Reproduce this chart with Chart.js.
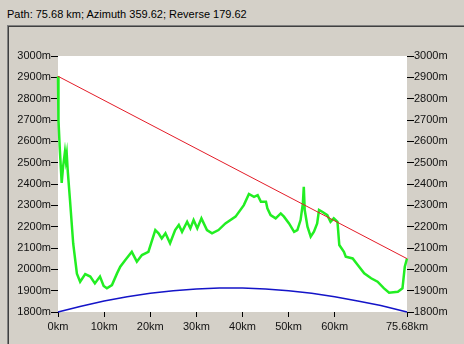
<!DOCTYPE html>
<html>
<head>
<meta charset="utf-8">
<script src="https://cdn.jsdelivr.net/npm/chart.js@4/dist/chart.umd.min.js"></script>
<style>
  html, body { margin: 0; padding: 0; }
  body { width: 464px; height: 344px; background: #d4d0c8; position: relative; overflow: hidden;
         font-family: "Liberation Sans", Arial, sans-serif; }
  #status { position: absolute; left: 7px; top: 8px; font-size: 11px; color: #000; }
  #panel { position: absolute; left: 7px; top: 25px; width: 470px; height: 330px;
           border-top: 1px solid #808080; border-left: 1px solid #808080;
           box-shadow: inset 1px 1px 0 #404040; }
  #chart { position: absolute; left: 0; top: 0; }
</style>
</head>
<body>
<div id="status">Path: 75.68 km; Azimuth 359.62; Reverse 179.62</div>
<div id="panel"></div>
<canvas id="chart" width="464" height="344"></canvas>
<script>
// ====================== Data ======================
const X_TICKS = [0, 10, 20, 30, 40, 50, 60, 75.68];

// terrain profile (km, m)
const profileKm = [
  0.0, 0.1, 0.4, 0.8, 1.1, 1.5, 1.7, 1.9, 2.1, 2.6, 3.3, 4.1, 4.8,
  5.9, 7.0, 8.0, 9.1, 9.9, 10.6, 11.7, 12.8, 13.5, 14.6, 16.0, 17.1,
  18.2, 19.6, 21.1, 21.8, 22.5, 23.3, 24.3, 25.4, 26.2, 26.9, 28.0,
  28.7, 29.4, 30.2, 31.1, 32.3, 33.4, 34.8, 36.3, 38.5, 40.3, 41.4,
  42.5, 43.3, 44.0, 45.1, 45.4, 46.1, 47.2, 48.3, 49.0, 50.1, 51.2,
  51.9, 52.6, 53.1, 53.3, 53.5, 54.1, 54.8, 55.5, 56.2, 56.6, 57.3,
  58.4, 59.1, 59.8, 60.6, 61.0, 62.0, 62.4, 63.9, 65.0, 66.4, 67.9,
  69.3, 70.7, 71.8, 73.7, 74.7, 75.2, 75.68
];
const profileElev = [
  2905, 2700, 2560, 2405, 2480, 2550, 2510, 2540, 2465, 2325, 2120, 1980, 1942,
  1978, 1966, 1934, 1966, 1922, 1911, 1926, 1981, 2012, 2044, 2082, 2036,
  2067, 2082, 2184, 2169, 2145, 2169, 2122, 2184, 2208, 2176, 2223,
  2192, 2231, 2192, 2239, 2184, 2169, 2184, 2215, 2247, 2301, 2353,
  2340, 2348, 2317, 2317, 2286, 2254, 2239, 2262, 2247, 2215, 2176,
  2184, 2231, 2309, 2387, 2278, 2200, 2153, 2176, 2215, 2278, 2270,
  2254, 2223, 2239, 2223, 2114, 2082, 2059, 2051, 2020, 1981, 1958,
  1942, 1911, 1890, 1895, 1911, 2012, 2051
];

// line of sight
const losKm = [0, 75.68];
const losElev = [2905, 2050];

// earth curvature
const curveKm = [0, 5, 10, 15, 20, 25, 30, 35, 37.84, 40, 45, 50, 55, 60, 65, 70, 75.68];
const curveElev = [1800, 1827, 1852, 1872, 1888, 1900, 1908, 1912, 1913, 1912, 1908, 1900, 1888, 1872, 1852, 1830, 1800];

function toPoints(xs, ys) {
  return xs.map((x, i) => ({ x: x, y: ys[i] }));
}

// ====================== Plot background ======================
const plotBg = {
  id: "plotBg",
  beforeDraw(chart) {
    const a = chart.chartArea;
    const ctx = chart.ctx;
    ctx.save();
    ctx.fillStyle = "#ffffff";
    ctx.fillRect(a.left, a.top, a.right - a.left, a.bottom - a.top);
    ctx.restore();
  }
};

const tickFont = { family: "'Liberation Sans', Arial, sans-serif", size: 11 };

function yAxis(pos, width) {
  return {
    type: "linear",
    position: pos,
    min: 1800,
    max: 3000,
    ticks: { stepSize: 100, padding: 0, color: "#111", font: tickFont, callback: v => v + "m" },
    grid: { drawOnChartArea: false, drawTicks: true, tickLength: 7, color: "#000" },
    border: { display: false },
    afterFit: axis => { axis.width = width; }
  };
}

// ====================== Chart ======================
new Chart(document.getElementById("chart"), {
  type: "line",
  data: {
    datasets: [
      {
        data: toPoints(curveKm, curveElev),
        borderColor: "#1414c8",
        borderWidth: 1.5,
        pointRadius: 0,
        clip: 3
      },
      {
        data: toPoints(losKm, losElev),
        borderColor: "#e41c28",
        borderWidth: 1,
        pointRadius: 0,
        clip: 3
      },
      {
        data: toPoints(profileKm, profileElev),
        borderColor: "#22ee22",
        borderWidth: 2.5,
        pointRadius: 0,
        clip: 3
      }
    ]
  },
  options: {
    responsive: false,
    animation: false,
    layout: { padding: { top: 56, left: 0, right: 0, bottom: 0 } },
    plugins: { legend: { display: false }, tooltip: { enabled: false } },
    scales: {
      x: {
        type: "linear",
        min: 0,
        max: 75.68,
        afterBuildTicks: axis => { axis.ticks = X_TICKS.map(v => ({ value: v })); },
        ticks: { padding: 3, color: "#111", font: tickFont, maxRotation: 0, autoSkip: false,
                 callback: v => v + "km" },
        grid: { drawOnChartArea: false, drawTicks: true, tickLength: 5, color: "#000" },
        border: { display: false },
        afterFit: axis => { axis.height = 32; }
      },
      y: yAxis("left", 58),
      y2: yAxis("right", 57)
    }
  },
  plugins: [plotBg]
});
</script>
</body>
</html>
